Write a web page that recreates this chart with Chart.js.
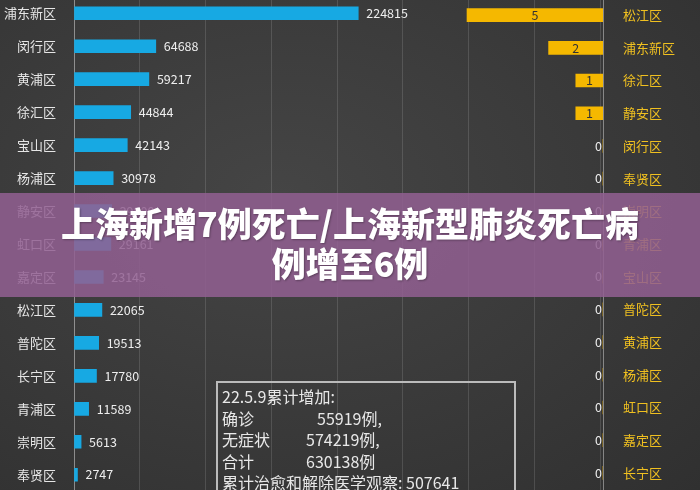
<!DOCTYPE html>
<html><head><meta charset="utf-8">
<script src="https://cdn.jsdelivr.net/npm/chart.js@4"></script>
<style>
body{margin:0;width:700px;height:490px;overflow:hidden;background:radial-gradient(ellipse at 40% 40%,#454545,#303030);font-family:"Noto Sans CJK SC",sans-serif;position:relative}
canvas{position:absolute;left:0;top:-21px}
#box{position:absolute;left:216px;top:381px;width:300px;height:120px;border:2px solid #bbb;border-bottom:none;color:#e8e8e8;font-size:16px;line-height:21.5px;padding:3px 0 0 4px;box-sizing:border-box;white-space:pre}
#box span{display:inline-block}
#banner{position:absolute;left:0;top:193px;width:700px;height:104px;background:rgba(145,95,145,0.86);color:#fff;font-weight:900;font-size:34px;line-height:40px;text-align:center;padding-top:10px;box-sizing:border-box;text-shadow:1px 1px 2px rgba(0,0,0,0.3)}
</style></head><body>
<canvas id="c1" width="700" height="530"></canvas>
<canvas id="c2" width="700" height="530"></canvas>
<div id="box">22.5.9累计增加:
<span style="width:95px">确诊</span>55919例,
<span style="width:84px">无症状</span>574219例,
<span style="width:84px">合计</span>630138例
累计治愈和解除医学观察: 507641</div>
<div id="banner">上海新增7例死亡/上海新型肺炎死亡病<br>例增至6例</div>
<script>
const leftCats=["浦东新区","闵行区","黄浦区","徐汇区","宝山区","杨浦区","静安区","虹口区","嘉定区","松江区","普陀区","长宁区","青浦区","崇明区","奉贤区"];
const leftVals=[224815,64688,59217,44844,42143,30978,29800,29161,23145,22065,19513,17780,11589,5613,2747];
const rightCats=["松江区","浦东新区","徐汇区","静安区","闵行区","奉贤区","崇明区","青浦区","宝山区","普陀区","黄浦区","杨浦区","虹口区","嘉定区","长宁区"];
const rightVals=[5,2,1,1,0,0,0,0,0,0,0,0,0,0,0];

const labelPlugin={id:'lbl',afterDatasetsDraw(ch,a,o){
  const ctx=ch.ctx,meta=ch.getDatasetMeta(0),vals=ch.data.datasets[0].data;
  ctx.save();ctx.font='12.5px "Noto Sans CJK SC", sans-serif';ctx.textBaseline='middle';
  meta.data.forEach((b,i)=>{
    if(o.side==='left'){ctx.fillStyle='#eee';ctx.textAlign='left';ctx.fillText(vals[i],b.x+8,b.y);}
    else if(vals[i]>0){ctx.fillStyle='#333';ctx.textAlign='center';ctx.fillText(vals[i],(b.x+b.base)/2,b.y);}
    else{ctx.fillStyle='#eee';ctx.textAlign='right';ctx.fillText('0',b.base-1,b.y);}
  });ctx.restore();}};

new Chart(document.getElementById('c1'),{type:'bar',
 data:{labels:leftCats,datasets:[{data:leftVals,backgroundColor:'#17a9e3',barThickness:13}]},
 options:{indexAxis:'y',responsive:false,animation:false,layout:{padding:{right:100,top:0,bottom:0,left:0}},
  plugins:{legend:{display:false},tooltip:{enabled:false},lbl:{side:'left'}},
  scales:{x:{min:0,max:416000,afterFit(s){s.height=0},ticks:{display:false,stepSize:50000},grid:{color:'rgba(255,255,255,0.13)',drawTicks:false},border:{display:false}},
   y:{afterFit(s){s.width=74},ticks:{color:'#e6e6e6',font:{size:13,family:'"Noto Sans CJK SC"'},padding:10},grid:{display:false},border:{color:'rgba(255,255,255,0.35)'}}}},
 plugins:[labelPlugin]});

new Chart(document.getElementById('c2'),{type:'bar',
 data:{labels:rightCats,datasets:[{data:rightVals,backgroundColor:'#f5b800',barThickness:13}]},
 options:{indexAxis:'y',responsive:false,animation:false,layout:{padding:{left:74,top:0,bottom:0,right:0}},
  plugins:{legend:{display:false},tooltip:{enabled:false},lbl:{side:'right'}},
  scales:{x:{reverse:true,min:0,max:19.45,afterFit(s){s.height=0},ticks:{display:false},grid:{display:false},border:{display:false}},
   y:{position:'right',afterFit(s){s.width=97},ticks:{color:'#f0c020',font:{size:13,family:'"Noto Sans CJK SC"'},padding:12},grid:{display:false},border:{color:'rgba(255,255,255,0.4)'}}}},
 plugins:[labelPlugin]});
</script></body></html>
